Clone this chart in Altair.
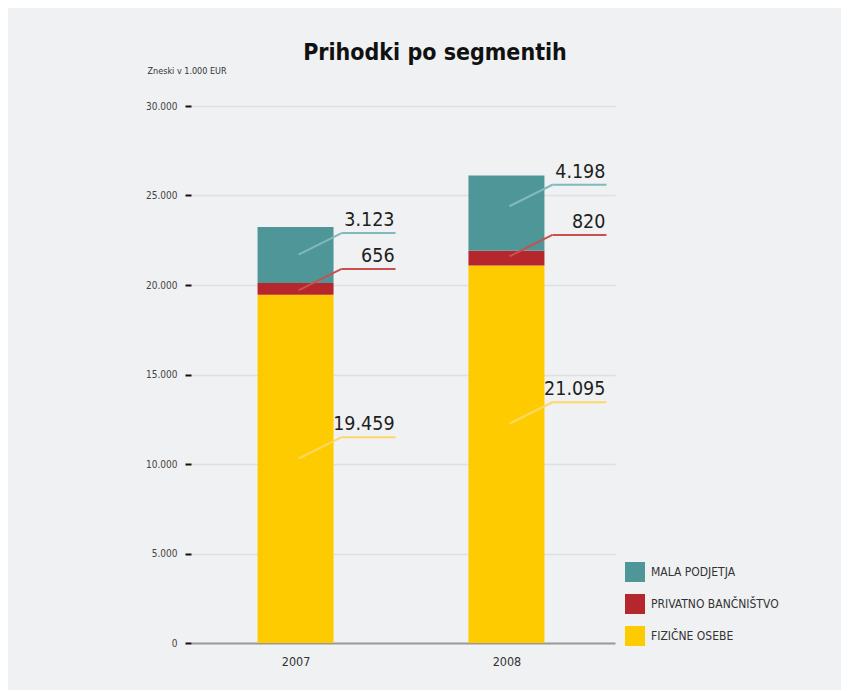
import altair as alt
import pandas as pd

# ---- data ----
years = [2007, 2008]
segments = ["FIZIČNE OSEBE", "PRIVATNO BANČNIŠTVO", "MALA PODJETJA"]
fizicne_osebe = [19459, 21095]
privatno_bancnistvo = [656, 820]
mala_podjetja = [3123, 4198]
# level (in 1.000 EUR) at which each value label's leader line ends
level_fizicne = [11500, 13450]
level_privatno = [20900, 22800]
level_mala = [22900, 25600]
y_ticks = [0, 5000, 10000, 15000, 20000, 25000, 30000]

# ---- styles ----
FONT = "Liberation Sans Narrow, DejaVu Sans Condensed, Arial Narrow, sans-serif"
bar_colors = ["#fecb00", "#b5262d", "#4f9699"]
line_colors = ["#fdd866", "#c8514f", "#82b9bb"]

rows = []
series = [fizicne_osebe, privatno_bancnistvo, mala_podjetja]
levels = [level_fizicne, level_privatno, level_mala]
for si, seg in enumerate(segments):
    for yi, yr in enumerate(years):
        v = series[si][yi]
        rows.append({
            "year": yr,
            "segment": seg,
            "order": si,
            "value": v,
            "level": levels[si][yi],
            "label": f"{v:,}".replace(",", "."),
        })
df = pd.DataFrame(rows)

legend_order = list(reversed(segments))

x_scale = alt.Scale(domain=[2006.528, 2008.491], nice=False, zero=False)
y_scale = alt.Scale(domain=[0, 30000], nice=False)

base = alt.Chart(df)

bars = base.mark_bar(size=76).encode(
    x=alt.X("year:Q", scale=x_scale,
            axis=alt.Axis(values=years, format="d", title=None, grid=False,
                          ticks=False, domainColor="#9a9a9a", domainWidth=2,
                          labelFontSize=12.5, labelColor="#333", labelPadding=12,
                          labelFont=FONT)),
    y=alt.Y("value:Q", stack="zero", scale=y_scale,
            axis=alt.Axis(values=y_ticks, title="Zneski v 1.000 EUR",
                          titleAngle=0, titleAlign="left", titleBaseline="alphabetic",
                          titleX=-44, titleY=-33, titleFontSize=9,
                          titleFontWeight="normal", titleColor="#333", titleFont=FONT,
                          labelExpr="replace(format(datum.value, ','), ',', '.')",
                          labelFontSize=10, labelColor="#444", labelPadding=8,
                          labelFont=FONT,
                          tickSize=6, tickColor="#111", tickWidth=2,
                          domain=False, gridColor="#dfe0e3", gridWidth=1.5)),
    color=alt.Color("segment:N",
                    scale=alt.Scale(domain=segments, range=bar_colors),
                    sort=legend_order,
                    legend=alt.Legend(orient="none", legendX=434, legendY=456,
                                      title=None, symbolType="square",
                                      symbolSize=400, symbolStrokeWidth=0,
                                      symbolOpacity=1,
                                      labelFontSize=12, labelColor="#333",
                                      labelFont=FONT, labelOffset=6,
                                      rowPadding=12, padding=0,
                                      values=legend_order)),
    order=alt.Order("order:Q"),
)

line_color = alt.Color("segment:N",
                       scale=alt.Scale(domain=segments, range=line_colors),
                       legend=None)

diag = base.mark_rule(strokeWidth=2, xOffset=3, x2Offset=46, yOffset=21.5).encode(
    x="year:Q", x2="year:Q", y="level:Q", y2="level:Q", color=line_color)

horiz = base.mark_rule(strokeWidth=2, xOffset=46, x2Offset=100).encode(
    x="year:Q", x2="year:Q", y="level:Q", color=line_color)

texts = base.mark_text(align="right", baseline="alphabetic", xOffset=99,
                       yOffset=-7, fontSize=19.5, font=FONT, color="#1e1e1e").encode(
    x="year:Q", y="level:Q", text="label:N")

chart = alt.layer(bars, diag, horiz, texts).resolve_scale(
    color="independent"
).properties(
    width=424,
    height=537,
    autosize=alt.AutoSizeParams(type="none"),
    padding={"left": 183, "top": 98, "right": 226, "bottom": 47},
    background="#f0f1f3",
    title=alt.TitleParams(text="Prihodki po segmentih", fontSize=23,
                          font=FONT, fontWeight="bold", color="#111",
                          anchor="middle", frame="group", dx=32, offset=1),
).configure_view(stroke=None)

chart.save("out.html", embed_options={"renderer": "svg", "actions": False})
